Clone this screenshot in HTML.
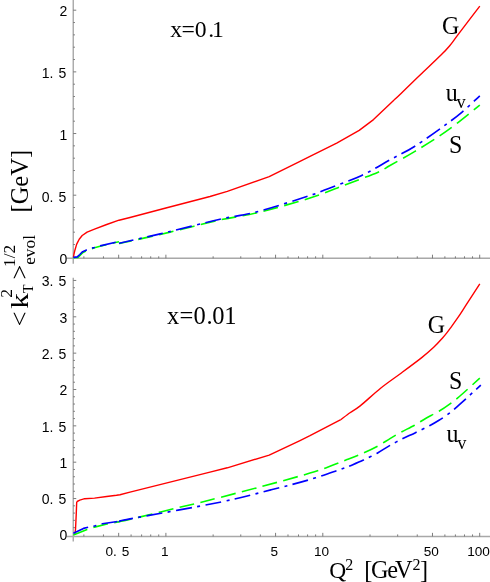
<!DOCTYPE html>
<html><head><meta charset="utf-8"><title>kT evolution</title>
<style>html,body{margin:0;padding:0;background:#fff;}body{width:490px;height:582px;overflow:hidden;}svg{display:block;will-change:transform;}</style>
</head><body>
<svg width="490" height="582" viewBox="0 0 490 582">
<rect width="490" height="582" fill="#fff"/>
<g stroke="#a8a8a8" stroke-width="1.4" fill="none">
<line x1="73.25" y1="0" x2="73.25" y2="263.7"/>
<line x1="66.5" y1="258.3" x2="490" y2="258.3"/>
<line x1="73.25" y1="277.8" x2="73.25" y2="541.5"/>
<line x1="66.5" y1="536.45" x2="490" y2="536.45"/>
</g>
<g stroke="#6e6e6e" stroke-width="0.9" fill="none">
<line x1="83.86" y1="258.3" x2="83.86" y2="256.30"/>
<line x1="103.46" y1="258.3" x2="103.46" y2="256.30"/>
<line x1="118.67" y1="258.3" x2="118.67" y2="254.70"/>
<line x1="131.09" y1="258.3" x2="131.09" y2="256.30"/>
<line x1="141.60" y1="258.3" x2="141.60" y2="256.30"/>
<line x1="150.69" y1="258.3" x2="150.69" y2="256.30"/>
<line x1="158.72" y1="258.3" x2="158.72" y2="256.30"/>
<line x1="165.90" y1="258.3" x2="165.90" y2="254.70"/>
<line x1="213.13" y1="258.3" x2="213.13" y2="256.30"/>
<line x1="240.76" y1="258.3" x2="240.76" y2="256.30"/>
<line x1="260.36" y1="258.3" x2="260.36" y2="256.30"/>
<line x1="275.57" y1="258.3" x2="275.57" y2="254.70"/>
<line x1="287.99" y1="258.3" x2="287.99" y2="256.30"/>
<line x1="298.50" y1="258.3" x2="298.50" y2="256.30"/>
<line x1="307.59" y1="258.3" x2="307.59" y2="256.30"/>
<line x1="315.62" y1="258.3" x2="315.62" y2="256.30"/>
<line x1="322.80" y1="258.3" x2="322.80" y2="254.70"/>
<line x1="370.03" y1="258.3" x2="370.03" y2="256.30"/>
<line x1="397.66" y1="258.3" x2="397.66" y2="256.30"/>
<line x1="417.26" y1="258.3" x2="417.26" y2="256.30"/>
<line x1="432.47" y1="258.3" x2="432.47" y2="254.70"/>
<line x1="444.89" y1="258.3" x2="444.89" y2="256.30"/>
<line x1="455.40" y1="258.3" x2="455.40" y2="256.30"/>
<line x1="464.49" y1="258.3" x2="464.49" y2="256.30"/>
<line x1="472.52" y1="258.3" x2="472.52" y2="256.30"/>
<line x1="479.70" y1="258.3" x2="479.70" y2="254.70"/>
<line x1="83.86" y1="536.45" x2="83.86" y2="534.45"/>
<line x1="103.46" y1="536.45" x2="103.46" y2="534.45"/>
<line x1="118.67" y1="536.45" x2="118.67" y2="532.85"/>
<line x1="131.09" y1="536.45" x2="131.09" y2="534.45"/>
<line x1="141.60" y1="536.45" x2="141.60" y2="534.45"/>
<line x1="150.69" y1="536.45" x2="150.69" y2="534.45"/>
<line x1="158.72" y1="536.45" x2="158.72" y2="534.45"/>
<line x1="165.90" y1="536.45" x2="165.90" y2="532.85"/>
<line x1="213.13" y1="536.45" x2="213.13" y2="534.45"/>
<line x1="240.76" y1="536.45" x2="240.76" y2="534.45"/>
<line x1="260.36" y1="536.45" x2="260.36" y2="534.45"/>
<line x1="275.57" y1="536.45" x2="275.57" y2="532.85"/>
<line x1="287.99" y1="536.45" x2="287.99" y2="534.45"/>
<line x1="298.50" y1="536.45" x2="298.50" y2="534.45"/>
<line x1="307.59" y1="536.45" x2="307.59" y2="534.45"/>
<line x1="315.62" y1="536.45" x2="315.62" y2="534.45"/>
<line x1="322.80" y1="536.45" x2="322.80" y2="532.85"/>
<line x1="370.03" y1="536.45" x2="370.03" y2="534.45"/>
<line x1="397.66" y1="536.45" x2="397.66" y2="534.45"/>
<line x1="417.26" y1="536.45" x2="417.26" y2="534.45"/>
<line x1="432.47" y1="536.45" x2="432.47" y2="532.85"/>
<line x1="444.89" y1="536.45" x2="444.89" y2="534.45"/>
<line x1="455.40" y1="536.45" x2="455.40" y2="534.45"/>
<line x1="464.49" y1="536.45" x2="464.49" y2="534.45"/>
<line x1="472.52" y1="536.45" x2="472.52" y2="534.45"/>
<line x1="479.70" y1="536.45" x2="479.70" y2="532.85"/>
<line x1="73.25" y1="244.52" x2="74.95" y2="244.52"/>
<line x1="73.25" y1="232.18" x2="74.95" y2="232.18"/>
<line x1="73.25" y1="219.85" x2="74.95" y2="219.85"/>
<line x1="73.25" y1="207.52" x2="74.95" y2="207.52"/>
<line x1="73.25" y1="195.19" x2="76.25" y2="195.19"/>
<line x1="73.25" y1="182.85" x2="74.95" y2="182.85"/>
<line x1="73.25" y1="170.52" x2="74.95" y2="170.52"/>
<line x1="73.25" y1="158.19" x2="74.95" y2="158.19"/>
<line x1="73.25" y1="145.85" x2="74.95" y2="145.85"/>
<line x1="73.25" y1="133.52" x2="76.25" y2="133.52"/>
<line x1="73.25" y1="121.19" x2="74.95" y2="121.19"/>
<line x1="73.25" y1="108.85" x2="74.95" y2="108.85"/>
<line x1="73.25" y1="96.52" x2="74.95" y2="96.52"/>
<line x1="73.25" y1="84.19" x2="74.95" y2="84.19"/>
<line x1="73.25" y1="71.86" x2="76.25" y2="71.86"/>
<line x1="73.25" y1="59.52" x2="74.95" y2="59.52"/>
<line x1="73.25" y1="47.19" x2="74.95" y2="47.19"/>
<line x1="73.25" y1="34.86" x2="74.95" y2="34.86"/>
<line x1="73.25" y1="22.52" x2="74.95" y2="22.52"/>
<line x1="73.25" y1="10.19" x2="76.25" y2="10.19"/>
<line x1="73.25" y1="527.63" x2="74.95" y2="527.63"/>
<line x1="73.25" y1="520.36" x2="74.95" y2="520.36"/>
<line x1="73.25" y1="513.09" x2="74.95" y2="513.09"/>
<line x1="73.25" y1="505.82" x2="74.95" y2="505.82"/>
<line x1="73.25" y1="498.55" x2="76.25" y2="498.55"/>
<line x1="73.25" y1="491.28" x2="74.95" y2="491.28"/>
<line x1="73.25" y1="484.01" x2="74.95" y2="484.01"/>
<line x1="73.25" y1="476.74" x2="74.95" y2="476.74"/>
<line x1="73.25" y1="469.47" x2="74.95" y2="469.47"/>
<line x1="73.25" y1="462.20" x2="76.25" y2="462.20"/>
<line x1="73.25" y1="454.93" x2="74.95" y2="454.93"/>
<line x1="73.25" y1="447.66" x2="74.95" y2="447.66"/>
<line x1="73.25" y1="440.39" x2="74.95" y2="440.39"/>
<line x1="73.25" y1="433.12" x2="74.95" y2="433.12"/>
<line x1="73.25" y1="425.85" x2="76.25" y2="425.85"/>
<line x1="73.25" y1="418.58" x2="74.95" y2="418.58"/>
<line x1="73.25" y1="411.31" x2="74.95" y2="411.31"/>
<line x1="73.25" y1="404.04" x2="74.95" y2="404.04"/>
<line x1="73.25" y1="396.77" x2="74.95" y2="396.77"/>
<line x1="73.25" y1="389.50" x2="76.25" y2="389.50"/>
<line x1="73.25" y1="382.23" x2="74.95" y2="382.23"/>
<line x1="73.25" y1="374.96" x2="74.95" y2="374.96"/>
<line x1="73.25" y1="367.69" x2="74.95" y2="367.69"/>
<line x1="73.25" y1="360.42" x2="74.95" y2="360.42"/>
<line x1="73.25" y1="353.15" x2="76.25" y2="353.15"/>
<line x1="73.25" y1="345.88" x2="74.95" y2="345.88"/>
<line x1="73.25" y1="338.61" x2="74.95" y2="338.61"/>
<line x1="73.25" y1="331.34" x2="74.95" y2="331.34"/>
<line x1="73.25" y1="324.07" x2="74.95" y2="324.07"/>
<line x1="73.25" y1="316.80" x2="76.25" y2="316.80"/>
<line x1="73.25" y1="309.53" x2="74.95" y2="309.53"/>
<line x1="73.25" y1="302.26" x2="74.95" y2="302.26"/>
<line x1="73.25" y1="294.99" x2="74.95" y2="294.99"/>
<line x1="73.25" y1="287.72" x2="74.95" y2="287.72"/>
<line x1="73.25" y1="280.45" x2="76.25" y2="280.45"/>
</g>
<g font-family="Liberation Sans, sans-serif" font-size="14px" fill="#000" word-spacing="1.2px">
<text x="67.4" y="263.55" text-anchor="end">0</text>
<text x="66.3" y="201.75" text-anchor="end">0. 5</text>
<text x="67.4" y="139.95" text-anchor="end">1</text>
<text x="66.3" y="78.15" text-anchor="end">1. 5</text>
<text x="67.4" y="16.35" text-anchor="end">2</text>
<text x="67.4" y="540.10" text-anchor="end">0</text>
<text x="66.3" y="504.35" text-anchor="end">0. 5</text>
<text x="67.4" y="468.00" text-anchor="end">1</text>
<text x="66.3" y="431.65" text-anchor="end">1. 5</text>
<text x="67.4" y="395.30" text-anchor="end">2</text>
<text x="66.3" y="358.95" text-anchor="end">2. 5</text>
<text x="67.4" y="322.60" text-anchor="end">3</text>
<text x="66.3" y="286.25" text-anchor="end">3. 5</text>
<text x="117.47" y="556.4" font-size="13.6px" text-anchor="middle">0. 5</text>
<text x="164.70" y="556.4" font-size="13.6px" text-anchor="middle">1</text>
<text x="274.37" y="556.4" font-size="13.6px" text-anchor="middle">5</text>
<text x="321.60" y="556.4" font-size="13.6px" text-anchor="middle">10</text>
<text x="431.27" y="556.4" font-size="13.6px" text-anchor="middle">50</text>
<text x="478.50" y="556.4" font-size="13.6px" text-anchor="middle">100</text>
</g>
<path d="M73.4,257.5 L74.0,254.0 L74.9,250.2 L76.7,244.1 L79.2,239.2 L82.2,235.5 L87.1,232.1 L94.5,229.1 L106.7,224.5 L119.0,220.2 L130.0,217.5 L165.9,208.0 L210.0,196.5 L227.3,191.4 L269.2,176.7 L300.0,161.4 L310.0,156.3 L336.7,143.1 L359.2,130.4 L373.5,119.6 L394.1,100.0" fill="none" stroke="#ff0000" stroke-width="1.4" stroke-linejoin="round"/>
<path d="M394.1,100.0 C395.0,99.1 395.8,98.6 400.0,94.5 C404.2,90.4 414.0,80.8 420.6,74.5 C427.2,68.2 436.4,59.7 441.0,55.1 C445.6,50.5 446.9,49.1 449.5,46.0 C452.1,42.9 452.5,42.1 457.3,35.7 C462.1,29.3 476.2,10.8 479.8,6.1" fill="none" stroke="#ff0000" stroke-width="1.4" stroke-linejoin="round"/>
<path d="M73.4,257.8 L78.0,257.5 L80.5,255.0 L83.0,252.5 L87.0,250.5 L94.5,247.8 L100.0,246.3 L116.5,242.3 L119.0,241.8" fill="none" stroke="#00ff00" stroke-width="1.6" stroke-linejoin="round" stroke-dasharray="15 6.4" stroke-dashoffset="0"/>
<path d="M119.0,243.5 C120.8,243.1 122.0,243.0 130.0,241.2 C138.0,239.4 154.6,235.8 169.0,232.4 C183.4,229.0 205.9,223.0 220.0,219.9 C234.1,216.8 242.6,216.3 257.0,212.8 C271.4,209.3 295.9,202.5 310.0,198.0 C324.1,193.5 334.1,189.0 344.9,184.9 C355.7,180.8 370.4,175.5 377.6,172.4 C384.8,169.3 384.1,168.8 390.0,165.5 C395.9,162.2 406.7,156.3 414.5,151.6 C422.3,146.9 432.2,140.9 439.0,136.3 C445.8,131.7 450.8,128.1 457.3,123.1 C463.8,118.1 476.2,108.0 479.8,105.1" fill="none" stroke="#00ff00" stroke-width="1.6" stroke-linejoin="round" stroke-dasharray="15 6.4" stroke-dashoffset="1.7"/>
<path d="M73.4,257.4 L77.3,256.9 L79.8,254.5 L82.2,252.0 L86.5,250.0 L92.0,248.1 L94.5,247.5 L100.0,245.9 L116.5,242.0 L118.9,241.6" fill="none" stroke="#0000ff" stroke-width="1.65" stroke-linejoin="round" stroke-dasharray="16 5.4 3 5.46" stroke-dashoffset="0"/>
<path d="M119.0,243.3 C120.8,242.9 122.0,242.6 130.0,240.8 C138.0,239.0 154.6,235.3 169.0,231.8 C183.4,228.3 205.9,222.4 220.0,219.2 C234.1,216.0 242.6,215.6 257.0,211.8 C271.4,208.0 299.2,199.0 310.0,195.5 C320.8,192.0 316.3,193.2 324.5,190.0 C332.7,186.8 350.7,180.5 361.2,175.7 C371.7,170.9 381.5,164.5 390.0,159.8 C398.5,155.1 405.7,152.1 414.5,146.5 C423.3,140.9 437.4,130.7 445.1,125.1 C452.8,119.5 456.8,116.5 462.4,111.8 C468.0,107.1 477.0,98.4 479.8,95.9" fill="none" stroke="#0000ff" stroke-width="1.65" stroke-linejoin="round" stroke-dasharray="16 5.4 3 5.46" stroke-dashoffset="0.9"/>
<path d="M74.9,533.8 L75.5,529.5 L76.2,515.0 L76.7,502.3 L77.2,501.5 L79.8,500.2 L84.7,498.7 L94.5,498.1 L106.7,496.5 L116.5,495.3 L120.0,494.7 L130.0,492.1 L210.0,472.1 L227.3,467.8 L269.2,455.1 L300.0,440.6 L310.0,435.7 L340.8,419.6" fill="none" stroke="#ff0000" stroke-width="1.4" stroke-linejoin="round"/>
<path d="M340.8,419.6 C342.3,418.5 346.9,414.9 350.0,412.7 C353.1,410.5 355.3,409.8 360.2,405.9 C365.1,402.0 374.1,393.4 380.6,388.2 C387.1,383.0 394.5,378.0 401.0,373.2 C407.5,368.4 416.2,362.0 421.4,357.9 C426.6,353.8 430.4,350.4 433.7,347.3 C437.0,344.2 439.7,341.2 441.8,338.8 C443.9,336.4 445.4,334.7 447.0,332.6 C448.6,330.5 450.2,328.2 452.0,325.8 C453.8,323.4 455.8,320.6 458.0,317.4 C460.2,314.2 462.0,311.3 465.5,305.9 C469.0,300.5 477.5,287.4 479.8,283.9" fill="none" stroke="#ff0000" stroke-width="1.4" stroke-linejoin="round"/>
<path d="M73.4,535.1 L87.1,529.6 L94.5,527.1 L108.0,523.8 L119.0,521.7" fill="none" stroke="#00ff00" stroke-width="1.6" stroke-linejoin="round" stroke-dasharray="15 6.4" stroke-dashoffset="0"/>
<path d="M119.0,521.7 C119.2,521.7 116.7,522.2 120.0,521.5 C123.3,520.8 130.6,519.2 139.4,517.1 C148.2,515.0 163.8,511.1 175.1,508.4 C186.4,505.7 196.3,503.5 210.0,500.0 C223.7,496.5 245.0,491.0 261.0,486.7 C277.0,482.4 299.0,476.4 310.0,473.1 C321.0,469.8 324.1,468.5 330.0,466.3 C335.9,464.1 341.6,461.7 347.0,459.6 C352.4,457.5 358.7,455.1 363.7,452.9 C368.7,450.7 373.8,448.3 378.0,446.0 C382.2,443.7 386.3,440.8 390.0,438.6 C393.7,436.4 397.5,434.1 401.4,432.0 C405.3,429.9 410.6,427.4 414.5,425.2 C418.4,423.0 422.1,420.4 426.0,418.2 C429.9,416.0 435.2,413.5 439.0,411.2 C442.8,408.9 446.7,406.2 450.0,403.8 C453.3,401.4 454.6,400.6 459.4,396.5 C464.2,392.4 476.5,381.1 479.8,378.2" fill="none" stroke="#00ff00" stroke-width="1.6" stroke-linejoin="round" stroke-dasharray="15 6.4" stroke-dashoffset="0.6"/>
<path d="M73.4,533.3 L83.5,528.4 L87.1,527.5 L95.1,525.9 L102.4,523.8 L119.0,521.3" fill="none" stroke="#0000ff" stroke-width="1.65" stroke-linejoin="round" stroke-dasharray="16 5.4 3 5.46" stroke-dashoffset="0"/>
<path d="M119.0,521.3 C119.2,521.3 118.2,521.6 120.0,521.2 C121.8,520.8 114.0,521.9 130.0,518.9 C146.0,515.9 197.4,506.9 220.0,502.2 C242.6,497.5 256.8,493.4 271.2,489.8 C285.6,486.2 299.1,482.7 310.0,479.5 C320.9,476.3 332.7,472.0 339.2,469.8 C345.7,467.6 346.5,467.3 350.4,465.7 C354.3,464.1 359.1,462.2 363.5,460.1 C367.9,458.0 373.8,455.1 378.0,452.7 C382.2,450.3 386.0,447.7 390.0,445.4 C394.0,443.1 398.9,440.6 402.9,438.6 C406.9,436.6 410.7,435.0 415.0,432.9 C419.3,430.8 426.2,427.5 430.0,425.5 C433.8,423.5 435.8,422.3 439.0,420.3 C442.2,418.3 446.7,415.3 450.0,412.8 C453.3,410.3 454.5,409.1 459.4,404.7 C464.3,400.3 477.4,388.2 480.8,385.1" fill="none" stroke="#0000ff" stroke-width="1.65" stroke-linejoin="round" stroke-dasharray="16 5.4 3 5.46" stroke-dashoffset="0.65"/>
<g font-family="Liberation Serif, serif" fill="#000">
<text x="170.3 181.4 194.8 208.2 211.9" y="37.2" font-size="23.7px">x=0.1</text>
<text x="167.0 179.4 193.6 206.6 212.3 224.3" y="323.6" font-size="24.5px">x=0.01</text>
<text transform="translate(442.0,34.1) scale(1,1.08)" font-size="24px">G</text>
<text transform="translate(445.8,100.5) scale(1,1.08)" font-size="24px">u</text>
<text transform="translate(456.6,107.5) scale(1,1.08)" font-size="18.3px">v</text>
<text transform="translate(449.0,153.0) scale(1,1.08)" font-size="24px">S</text>
<text transform="translate(427.7,332.6) scale(1,1.08)" font-size="24px">G</text>
<text transform="translate(449.0,388.9) scale(1,1.08)" font-size="24px">S</text>
<text transform="translate(446.5,442.0) scale(1,1.08)" font-size="24px">u</text>
<text transform="translate(457.3,448.8) scale(1,1.08)" font-size="18.3px">v</text>
<text x="329.2" y="577.7" font-size="23.5px">Q</text>
<text x="345.3" y="569.6" font-size="16px">2</text>
<text x="364.3" y="578.1" font-size="24.3px">[</text>
<text x="371.0" y="578.1" font-size="24.3px">G</text>
<text x="387.3" y="578.1" font-size="24.3px">e</text>
<text x="394.9" y="578.1" font-size="24.3px">V</text>
<text x="412.6" y="569.6" font-size="16px">2</text>
<text x="419.9" y="578.1" font-size="24.3px">]</text>
<g transform="translate(28.4,325.4) rotate(-90)">
<text x="-0.8" y="0" font-size="26px">&lt;</text>
<text transform="translate(16.6,0) scale(1.2,1)" x="0" y="0" font-size="26px">k</text>
<text x="27.6" y="-16.4" font-size="17.5px">2</text>
<text x="32.4" y="4.3" font-size="14px">T</text>
<text x="45.8" y="0" font-size="26px">&gt;</text>
<text x="58.5" y="-13.4" font-size="17.3px">1/2</text>
<text x="60.6" y="6.7" font-size="17.3px">evol</text>
<text x="112.9" y="0" font-size="24.5px">[GeV]</text>
</g>
</g>
</svg>
</body></html>
